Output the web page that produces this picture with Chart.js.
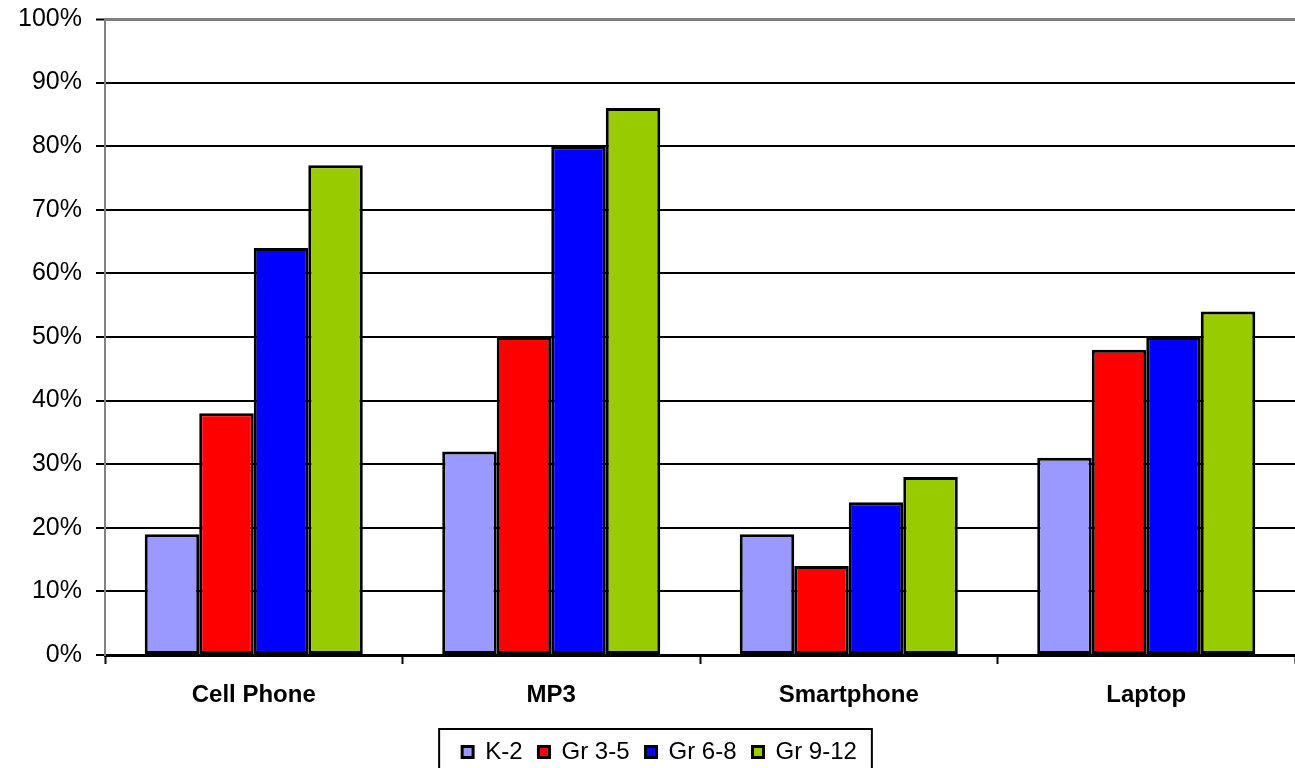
<!DOCTYPE html>
<html>
<head>
<meta charset="utf-8">
<script src="https://cdn.jsdelivr.net/npm/chart.js@4/dist/chart.umd.min.js"></script>
<style>
html, body { margin: 0; padding: 0; background: #fff; }
canvas { display: block; }
</style>
</head>
<body>
<canvas id="deviceChart" width="1295" height="768"></canvas>
<script>
// device ownership by grade band, percent
var devices = ['Cell Phone', 'MP3', 'Smartphone', 'Laptop'];
var gradeK2 = [19, 32, 19, 31];
var grade3to5 = [38, 50, 14, 48];
var grade6to8 = [64, 80, 24, 50];
var grade9to12 = [77, 86, 28, 54];
var gradeNames = ['K-2', 'Gr 3-5', 'Gr 6-8', 'Gr 9-12'];
var gradeColors = ['#9999FF', '#FF0000', '#0000FF', '#99CC00'];
var yTicks = [0, 10, 20, 30, 40, 50, 60, 70, 80, 90, 100];

var FONT = '"Liberation Sans", Arial, sans-serif';

var series = [gradeK2, grade3to5, grade6to8, grade9to12];
var datasets = series.map(function (values, i) {
	return {
		label: gradeNames[i],
		data: values,
		backgroundColor: gradeColors[i],
		borderColor: '#000',
		borderWidth: 3,
		borderSkipped: false,
		categoryPercentage: 0.733,
		barPercentage: 1
	};
});

// move the legend row down/right a little and frame it
var legendFrame = {
	id: 'legendFrame',
	afterLayout: function (chart) {
		var lg = chart.legend;
		lg.top += 6;
		lg.bottom += 6;
		lg.left += 12;
		lg.right += 12;
	},
	afterDraw: function (chart) {
		var boxes = chart.legend.legendHitBoxes;
		if (!boxes || !boxes.length) return;
		var left = Infinity, right = -Infinity, top = boxes[0].top;
		boxes.forEach(function (b) {
			left = Math.min(left, b.left);
			right = Math.max(right, b.left + b.width);
		});
		var ctx = chart.ctx;
		ctx.save();
		ctx.strokeStyle = '#000';
		ctx.lineWidth = 2;
		ctx.strokeRect(left - 23, top - 11, right - left + 38, 80);
		ctx.restore();
	}
};

new Chart(document.getElementById('deviceChart'), {
	type: 'bar',
	data: { labels: devices, datasets: datasets },
	plugins: [legendFrame],
	options: {
		responsive: false,
		devicePixelRatio: 1,
		animation: false,
		layout: { padding: 0 },
		plugins: {
			title: { display: false },
			tooltip: { enabled: false },
			legend: {
				position: 'bottom',
				labels: {
					color: '#000',
					font: { family: FONT, size: 24 },
					boxWidth: 11,
					boxHeight: 11,
					padding: 16
				}
			}
		},
		scales: {
			x: {
				afterFit: function (scale) { scale.height = 63; },
				grid: {
					offset: true,
					drawOnChartArea: false,
					drawTicks: true,
					tickLength: 9,
					tickWidth: 2,
					tickColor: '#000'
				},
				border: { display: true, color: '#000', width: 3 },
				ticks: {
					color: '#000',
					padding: 17,
					font: { family: FONT, size: 24, weight: 'bold' }
				}
			},
			y: {
				min: 0,
				max: 100,
				afterFit: function (scale) {
					scale.width = 105;
					scale.paddingTop = 19;
				},
				afterBuildTicks: function (scale) {
					scale.ticks = yTicks.map(function (v) { return { value: v }; });
				},
				grid: {
					color: function (c) { return c.tick && c.tick.value === 100 ? '#808080' : '#000'; },
					lineWidth: function (c) { return c.tick && c.tick.value === 100 ? 3 : 2; },
					drawTicks: true,
					tickLength: 9,
					tickWidth: 2,
					tickColor: '#000'
				},
				border: { display: true, color: '#808080', width: 2 },
				ticks: {
					color: '#000',
					padding: 14,
					font: { family: FONT, size: 25 },
					callback: function (v) { return v + '%'; }
				}
			}
		}
	}
});
</script>
</body>
</html>
